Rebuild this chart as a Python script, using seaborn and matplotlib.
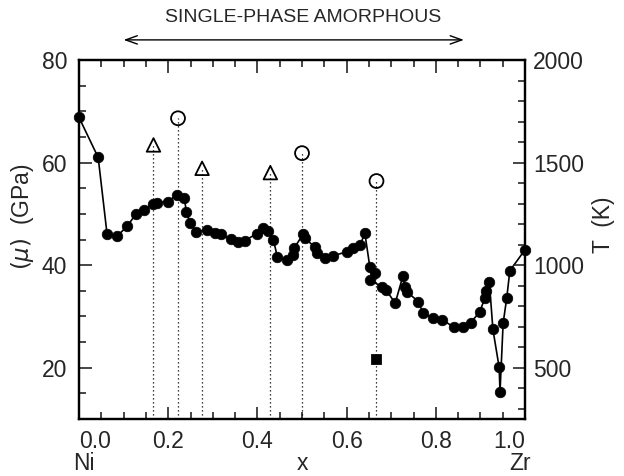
import matplotlib
matplotlib.use("Agg")
import matplotlib.pyplot as plt
import matplotlib.transforms as mtransforms
from matplotlib.ticker import MultipleLocator, FixedLocator
import seaborn as sns
import pandas as pd

# ---- data ----
x_mu = [0.0, 0.043, 0.063, 0.085, 0.108, 0.128, 0.146, 0.165, 0.176, 0.200,
        0.219, 0.236, 0.241, 0.249, 0.262, 0.286, 0.305, 0.318, 0.340, 0.357,
        0.372, 0.398, 0.412, 0.424, 0.436, 0.445, 0.466, 0.480, 0.483, 0.503,
        0.507, 0.529, 0.533, 0.552, 0.569, 0.600, 0.615, 0.630, 0.641, 0.652,
        0.664, 0.652, 0.679, 0.688, 0.709, 0.726, 0.731, 0.735, 0.761, 0.771,
        0.794, 0.815, 0.841, 0.862, 0.878, 0.898, 0.910, 0.913, 0.920, 0.928,
        0.942, 0.944, 0.951, 0.959, 0.966, 1.0]
mu_gpa = [68.8, 61.0, 46.0, 45.6, 47.6, 50.0, 50.8, 51.9, 52.1, 52.4,
          53.7, 53.0, 50.4, 48.2, 46.5, 46.9, 46.2, 46.0, 45.05, 44.5,
          44.8, 46.1, 47.2, 46.7, 44.9, 41.5, 41.0, 42.0, 43.4, 46.1,
          45.2, 43.5, 42.3, 41.3, 41.8, 42.6, 43.3, 43.9, 46.2, 39.7,
          38.4, 37.1, 35.8, 35.2, 32.6, 37.8, 35.8, 34.8, 32.9, 30.7,
          29.65, 29.3, 27.9, 28.0, 28.8, 30.8, 33.55, 35.0, 36.8, 27.5,
          20.1, 15.3, 28.7, 33.55, 38.9, 43.0]

x_tri = [0.167, 0.276, 0.429]
T_tri = [1586, 1472, 1451]
x_circ = [0.222, 0.500, 0.667]
T_circ = [1716, 1546, 1410]
x_sq = [0.667]
T_sq = [542]

x_ticks = [0.0, 0.2, 0.4, 0.6, 0.8, 1.0]
x_ticklabels = ["0.0", "0.2", "0.4", "0.6", "0.8", "1.0"]
left_ticks = [20, 40, 60, 80]
right_ticks = [500, 1000, 1500, 2000]

# ---- style ----
sns.set_theme(style="ticks")
plt.rcParams['font.family'] = ['Liberation Sans', 'DejaVu Sans']

fig = plt.figure(figsize=(6.24, 4.76), dpi=100)
ax = fig.add_axes([79/624, 1-419/476, 446/624, 359/476])
ax2 = ax.twinx()

df = pd.DataFrame({'x': x_mu, 'mu': mu_gpa})
sns.lineplot(data=df, x='x', y='mu', sort=False, estimator=None, color='black',
             lw=1.2, ax=ax, zorder=2)
sns.scatterplot(data=df, x='x', y='mu', color='black', s=58, edgecolor='black',
                linewidth=0.5, ax=ax, zorder=3, clip_on=False)

# dotted drop lines for the temperature markers
ax2.vlines(x_tri + x_circ, 250, T_tri + T_circ, colors='black',
           linestyles=(0, (1, 2.2)), lw=0.9, zorder=1)

dtri = pd.DataFrame({'x': x_tri, 'T': T_tri})
dcirc = pd.DataFrame({'x': x_circ, 'T': T_circ})
dsq = pd.DataFrame({'x': x_sq, 'T': T_sq})
sns.scatterplot(data=dtri, x='x', y='T', marker='^', s=95, facecolors='none',
                edgecolor='black', linewidth=1.3, ax=ax2, zorder=4)
sns.scatterplot(data=dcirc, x='x', y='T', marker='o', s=100, facecolors='none',
                edgecolor='black', linewidth=1.3, ax=ax2, zorder=4)
sns.scatterplot(data=dsq, x='x', y='T', marker='s', s=50, color='black',
                edgecolor='black', ax=ax2, zorder=4)

# ---- axes ----
ax.set_xlim(0, 1)
ax.set_ylim(10, 80)
ax2.set_ylim(250, 2000)

ax.xaxis.set_major_locator(FixedLocator(x_ticks))
ax.set_xticklabels(x_ticklabels)
ax.xaxis.set_minor_locator(MultipleLocator(0.05))
ax.yaxis.set_major_locator(FixedLocator(left_ticks))
ax.yaxis.set_minor_locator(MultipleLocator(5))
ax2.yaxis.set_major_locator(FixedLocator(right_ticks))
ax2.yaxis.set_minor_locator(MultipleLocator(100))

ax.tick_params(axis='x', which='both', direction='in', top=True, bottom=True,
               labelsize=16.5, pad=8, width=1.2)
ax.tick_params(axis='y', which='both', direction='in', left=True, right=False,
               labelsize=16.5, pad=8.5, width=1.2)
ax2.tick_params(axis='y', which='both', direction='in', right=True, left=False,
                labelsize=16.5, pad=6, width=1.2)
for a in (ax, ax2):
    a.tick_params(which='major', length=9)
    a.tick_params(which='minor', length=5)
    for s in a.spines.values():
        s.set_linewidth(1.6)
        s.set_color('black')

labs = ax.get_xticklabels()
labs[0].set_horizontalalignment('left')
labs[-1].set_horizontalalignment('right')

ax.set_xlabel('x', fontsize=16.5)
ax.xaxis.set_label_coords(0.5, -0.1226)
ax.xaxis.label.set_va('center')
trans = mtransforms.blended_transform_factory(ax.transAxes, ax.transAxes)
ax.text(0.01, -0.1226, 'Ni', fontsize=16.5, ha='center', va='center', transform=trans)
ax.text(0.989, -0.1226, 'Zr', fontsize=16.5, ha='center', va='center', transform=trans)

ax.set_ylabel(r'$(\mu)$  (GPa)', fontsize=16.5)
ax.yaxis.set_label_coords(-0.096, 0.563)
ax2.set_ylabel('T  (K)', fontsize=16.5)
ax2.yaxis.set_label_coords(1.150, 0.54)

# top annotation
ax.annotate('', xy=(0.10, 1.056), xytext=(0.863, 1.056), xycoords='axes fraction',
            textcoords='axes fraction',
            arrowprops=dict(arrowstyle='<->,head_length=0.7,head_width=0.25',
                            lw=1.0, color='black', shrinkA=0, shrinkB=0))
ax.text(0.502, 1.117, 'SINGLE-PHASE AMORPHOUS', fontsize=14, ha='center',
        va='center', transform=ax.transAxes)

fig.savefig('out.png', dpi=100, facecolor='white')
